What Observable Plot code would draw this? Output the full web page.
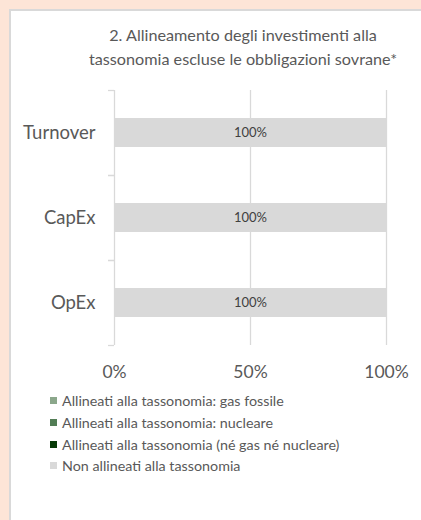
<!DOCTYPE html>
<html>
<head>
<meta charset="utf-8">
<script src="https://cdn.jsdelivr.net/npm/d3@7"></script>
<script src="https://cdn.jsdelivr.net/npm/@observablehq/plot@0.6"></script>
<style>
  html, body { margin: 0; padding: 0; }
  body { width: 421px; height: 520px; background: #fde5d7; position: relative; overflow: hidden; font-family: Lato, sans-serif; }
  #panel { position: absolute; left: 9px; top: 9px; right: 0; bottom: 0; background: #fff; border-left: 2px solid #d9d9d9; border-top: 2px solid #d9d9d9; }
  #chart { position: absolute; left: 0; top: 0; }
  #title { position: absolute; left: 62px; width: 362px; top: 23px; text-align: center; font-size: 16.2px; line-height: 24px; color: #595959; }
  #legend { position: absolute; left: 50px; top: 390px; font-size: 14.3px; color: #595959; }
  .row { height: 21.7px; display: flex; align-items: center; }
  .sw { width: 7px; height: 7px; margin-right: 5px; flex: none; }
</style>
</head>
<body>
<div id="panel"></div>
<div id="chart"></div>
<div id="title">2. Allineamento degli investimenti alla<br>tassonomia escluse le obbligazioni sovrane*</div>
<div id="legend"></div>
<script>
const categories = ["Turnover", "CapEx", "OpEx"];
const seriesNames = [
  "Allineati alla tassonomia: gas fossile",
  "Allineati alla tassonomia: nucleare",
  "Allineati alla tassonomia (né gas né nucleare)",
  "Non allineati alla tassonomia"
];
const seriesColors = ["#8ba78b", "#527d55", "#073a07", "#d9d9d9"];
const gasFossile = [0, 0, 0];
const nucleare = [0, 0, 0];
const neGasNeNucleare = [0, 0, 0];
const nonAllineati = [100, 100, 100];
const xTicks = [0, 50, 100];

const seriesValues = [gasFossile, nucleare, neGasNeNucleare, nonAllineati];
const data = [];
seriesNames.forEach((s, i) => {
  categories.forEach((c, j) => data.push({cat: c, series: s, value: seriesValues[i][j]}));
});

const step = 85;
const chart = Plot.plot({
  width: 421,
  height: 390,
  marginLeft: 114,
  marginRight: 35,
  marginTop: 90,
  marginBottom: 45,
  style: {fontFamily: "Lato, sans-serif", background: "transparent", color: "#595959"},
  x: {domain: [0, 100], label: null},
  y: {domain: categories, paddingInner: 0.66, paddingOuter: 0.33, label: null},
  color: {domain: seriesNames, range: seriesColors},
  marks: [
    Plot.ruleX(xTicks, {stroke: "#d9d9d9", strokeWidth: 1.3}),
    Plot.barX(data, Plot.stackX({y: "cat", x: "value", fill: "series", order: seriesNames})),
    Plot.text(data, Plot.stackX({
      y: "cat", x: "value", z: "series", order: seriesNames,
      text: d => d.value > 0 ? d.value + "%" : null,
      fill: "#404040", fontSize: 13
    })),
    Plot.axisY({tickSize: 0, tickPadding: 19, fontSize: 18.5, fill: "#595959", label: null}),
    Plot.axisY({tickSize: 6, dy: -step / 2, tickFormat: () => "", stroke: "#d9d9d9", strokeWidth: 1.3, label: null}),
    Plot.axisY({tickSize: 6, dy: step / 2, tickFormat: () => "", stroke: "#d9d9d9", strokeWidth: 1.3, label: null}),
    Plot.axisX({ticks: xTicks, tickFormat: d => d + "%", tickSize: 0, tickPadding: 20, fontSize: 17.5, fill: "#595959", label: null})
  ]
});
document.getElementById("chart").appendChild(chart);

const legend = document.getElementById("legend");
seriesNames.forEach((s, i) => {
  const row = document.createElement("div");
  row.className = "row";
  const sw = document.createElement("span");
  sw.className = "sw";
  sw.style.background = seriesColors[i];
  const t = document.createElement("span");
  t.textContent = s;
  row.appendChild(sw);
  row.appendChild(t);
  legend.appendChild(row);
});
</script>
</body>
</html>
